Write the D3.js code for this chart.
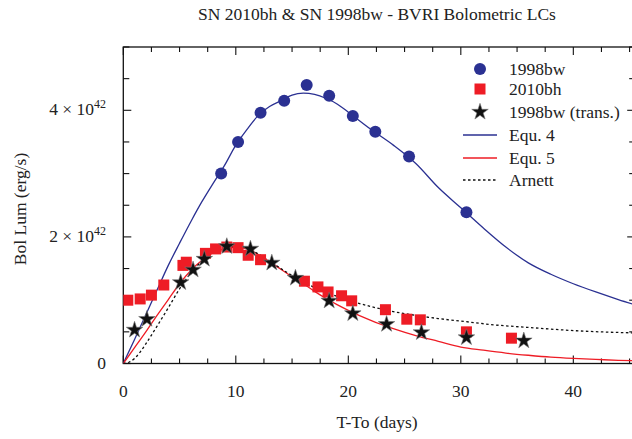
<!DOCTYPE html>
<html><head><meta charset="utf-8">
<script src="https://cdn.jsdelivr.net/npm/d3@7"></script>
<style>
html,body{margin:0;padding:0;background:#fff;}
text{font-family:"Liberation Serif","DejaVu Serif",serif;fill:#222;}
</style></head>
<body>
<svg id="c" width="632" height="439"></svg>
<script>
// ---- data (luminosity in units of 1e42 erg/s) ----
const bw98Days = [8.7,10.2,12.2,14.3,16.3,18.3,20.4,22.4,25.4,30.5];
const bw98Lum  = [3.00,3.50,3.96,4.15,4.40,4.23,3.91,3.66,3.27,2.39];

const bh10Days = [0.4,1.5,2.5,3.6,5.3,5.6,7.3,8.2,9.2,10.2,11.1,12.2,16.1,17.3,18.2,19.4,20.3,23.3,25.2,26.4,30.5,34.5];
const bh10Lum  = [1.00,1.02,1.08,1.24,1.55,1.60,1.74,1.81,1.84,1.83,1.71,1.64,1.30,1.21,1.13,1.07,0.99,0.85,0.70,0.69,0.50,0.40];

const bwTransDays = [1.0,2.1,5.1,6.2,7.2,9.2,11.3,13.2,15.3,18.3,20.4,23.4,26.5,30.5,35.6];
const bwTransLum  = [0.53,0.70,1.28,1.48,1.65,1.85,1.81,1.59,1.35,0.99,0.79,0.62,0.49,0.41,0.36];

const modelDays = [0,1,2,3,4,5,6,7,8,9,10,11,12,13,14,15,16,17,18,19,20,22,24,26,28,30,32,34,36,38,40,42,44,46];
const equ4Lum   = [0,0.38,0.77,1.16,1.55,1.90,2.24,2.56,2.85,3.13,3.45,3.70,3.92,4.06,4.15,4.24,4.27,4.25,4.19,4.10,3.97,3.70,3.45,3.16,2.78,2.46,2.14,1.84,1.59,1.41,1.26,1.13,1.01,0.90];
const equ5Lum   = [0,0.25,0.50,0.76,1.01,1.26,1.47,1.63,1.75,1.81,1.84,1.81,1.72,1.61,1.49,1.37,1.26,1.14,1.03,0.93,0.84,0.68,0.55,0.44,0.35,0.26,0.21,0.165,0.13,0.10,0.08,0.065,0.05,0.04];

const arnettDays = [0,0.5,1,1.5,2,3,4,5,6,7,8,9,10,11,12,13,14,15,16,17,18,19,20,22,24,26,28,30,33,36,40,46];
const arnettLum  = [0,0.02,0.08,0.18,0.31,0.59,0.88,1.18,1.43,1.62,1.76,1.83,1.845,1.82,1.73,1.62,1.50,1.39,1.29,1.20,1.13,1.06,1.00,0.90,0.82,0.76,0.71,0.67,0.61,0.57,0.52,0.48];

const xMajorTicks = [0,10,20,30,40];
const xTickLabels = ["0","10","20","30","40"];
const yMajorTicks = [0,2,4];
const yTickMant   = ["0","2","4"];
const yTickExp    = ["","42","42"];

const titleText = "SN 2010bh & SN 1998bw - BVRI Bolometric LCs";
const xLabel = "T-To (days)";
const yLabel = "Bol Lum (erg/s)";
const legendNames = ["1998bw","2010bh","1998bw (trans.)","Equ. 4","Equ. 5","Arnett"];

// ---- layout ----
const BLUE = "#2b3192", RED = "#ee1c25";
const FS = 17.5;
const svg = d3.select("#c");
const L = 123.3, R = 635.2, T = 47, B = 363.5;
const x = d3.scaleLinear().domain([0,45.5]).range([L,R]);
const y = d3.scaleLinear().domain([0,5]).range([B,T]);

// clip
svg.append("defs").append("clipPath").attr("id","clip")
  .append("rect").attr("x",L).attr("y",T).attr("width",R-L).attr("height",B-T);

// frame
const frame = svg.append("g");
frame.append("rect").attr("x",L).attr("y",T).attr("width",R-L).attr("height",B-T)
  .attr("fill","none").attr("stroke","#111").attr("stroke-width",1.3);

const xMinor = d3.range(0,45.5,2.5).filter(v=>v%10!==0);
const yMinor = d3.range(0,5.01,0.5).filter(v=>!yMajorTicks.includes(v));
function xt(vals,len){
  vals.forEach(v=>{
    frame.append("line").attr("x1",x(v)).attr("x2",x(v)).attr("y1",B).attr("y2",B-len).attr("stroke","#111").attr("stroke-width",1.1);
    frame.append("line").attr("x1",x(v)).attr("x2",x(v)).attr("y1",T).attr("y2",T+len).attr("stroke","#111").attr("stroke-width",1.1);
  });
}
function yt(vals,len){
  vals.forEach(v=>{
    frame.append("line").attr("y1",y(v)).attr("y2",y(v)).attr("x1",L).attr("x2",L+len).attr("stroke","#111").attr("stroke-width",1.1);
    frame.append("line").attr("y1",y(v)).attr("y2",y(v)).attr("x1",R).attr("x2",R-len).attr("stroke","#111").attr("stroke-width",1.1);
  });
}
xt(xMajorTicks,8); xt(xMinor,5);
yt(yMajorTicks,8); yt(yMinor,6);

// tick labels
xMajorTicks.forEach((v,i)=>{
  svg.append("text").attr("x",x(v)).attr("y",397).attr("text-anchor","middle")
    .attr("font-size",FS).text(xTickLabels[i]);
});
yMajorTicks.forEach((v,i)=>{
  const t = svg.append("text").attr("x",106).attr("y",y(v)+5).attr("text-anchor","end").attr("font-size",FS);
  if(yTickExp[i]){
    t.append("tspan").text(yTickMant[i]+" \u00d7 10");
    t.append("tspan").attr("dy",-7).attr("font-size",12).text(yTickExp[i]);
  } else t.text(yTickMant[i]);
});

// titles
svg.append("text").attr("x",377).attr("y",20).attr("text-anchor","middle").attr("font-size",FS).text(titleText);
svg.append("text").attr("x",377).attr("y",428).attr("text-anchor","middle").attr("font-size",FS).text(xLabel);
svg.append("text").attr("transform","translate(26,209) rotate(-90)").attr("text-anchor","middle").attr("font-size",FS).text(yLabel);

// curves
const plot = svg.append("g").attr("clip-path","url(#clip)");
const line = d3.line().x(d=>x(d[0])).y(d=>y(d[1])).curve(d3.curveMonotoneX);
plot.append("path").datum(d3.zip(modelDays,equ4Lum)).attr("d",line).attr("fill","none").attr("stroke",BLUE).attr("stroke-width",1.3);
plot.append("path").datum(d3.zip(modelDays,equ5Lum)).attr("d",line).attr("fill","none").attr("stroke",RED).attr("stroke-width",1.3);
plot.append("path").datum(d3.zip(arnettDays,arnettLum)).attr("d",line).attr("fill","none").attr("stroke","#111").attr("stroke-width",1.3).attr("stroke-dasharray","2.5,2.5");

// points
const sq = 11;
plot.selectAll(".sq").data(d3.zip(bh10Days,bh10Lum)).join("rect")
  .attr("x",d=>x(d[0])-sq/2).attr("y",d=>y(d[1])-sq/2).attr("width",sq).attr("height",sq).attr("fill",RED);
plot.selectAll(".ci").data(d3.zip(bw98Days,bw98Lum)).join("circle")
  .attr("cx",d=>x(d[0])).attr("cy",d=>y(d[1])).attr("r",6).attr("fill",BLUE);
const star = d3.symbol().type(d3.symbolStar).size(85);
plot.selectAll(".st").data(d3.zip(bwTransDays,bwTransLum)).join("path")
  .attr("d",star).attr("transform",d=>`translate(${x(d[0])},${y(d[1])})`)
  .attr("fill","#111").attr("stroke","#777").attr("stroke-width",0.6);

// legend
const lg = svg.append("g");
const rows = [69,89,112,135,158,180];
lg.append("circle").attr("cx",480).attr("cy",rows[0]).attr("r",6).attr("fill",BLUE);
lg.append("rect").attr("x",480-sq/2).attr("y",rows[1]-sq/2).attr("width",sq).attr("height",sq).attr("fill",RED);
lg.append("path").attr("d",star).attr("transform",`translate(480,${rows[2]})`).attr("fill","#111").attr("stroke","#777").attr("stroke-width",0.6);
lg.append("line").attr("x1",463).attr("x2",497).attr("y1",rows[3]).attr("y2",rows[3]).attr("stroke",BLUE).attr("stroke-width",1.3);
lg.append("line").attr("x1",463).attr("x2",497).attr("y1",rows[4]).attr("y2",rows[4]).attr("stroke",RED).attr("stroke-width",1.3);
lg.append("line").attr("x1",463).attr("x2",497).attr("y1",rows[5]).attr("y2",rows[5]).attr("stroke","#111").attr("stroke-width",1.3).attr("stroke-dasharray","2.5,2.5");
legendNames.forEach((n,i)=>{
  lg.append("text").attr("x",509).attr("y",rows[i]+5.5).attr("font-size",FS).text(n);
});
</script>
</body></html>
